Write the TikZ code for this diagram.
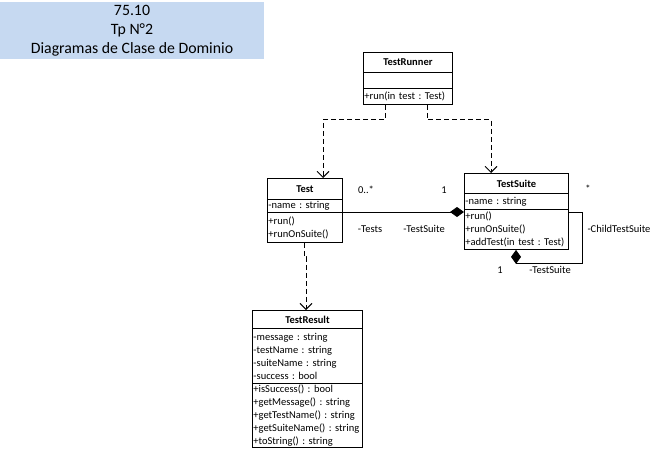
\documentclass[tikz,border=0pt]{standalone}
\usepackage{fontspec}
\setmainfont{Carlito}
\usetikzlibrary{arrows.meta}
\definecolor{titlefill}{RGB}{198,217,241}
\frenchspacing
\tikzset{
  comp/.style={draw, line width=0.9pt, anchor=north west, inner xsep=1pt, inner ysep=0pt,
    align=left, font=\fontsize{10.5}{13}\selectfont},
  cname/.style={comp, align=center, font=\fontsize{10.5}{13}\selectfont\bfseries},
  dep/.style={draw, line width=0.9pt, dash pattern=on 5pt off 3pt,
    -{Straight Barb[length=6pt,width=12pt]}},
  compo/.style={draw, line width=0.9pt, -{Diamond[length=14pt,width=10pt]}},
  lbl/.style={font=\fontsize{10.5}{13}\selectfont, inner sep=0pt},
}
\begin{document}
\begin{tikzpicture}[x=1pt,y=-1pt]
\useasboundingbox (0,0) rectangle (652,450);

% title block
\node[fill=titlefill, minimum width=264pt, minimum height=57pt, inner sep=0pt,
  align=center, font=\fontsize{15.8}{19}\selectfont] (title) at (132,30.5)
  {75.10\\Tp N°2\\Diagramas de Clase de Dominio};

% TestRunner
\node[cname, text width=87pt, minimum height=20pt] (runnerN) at (363,52) {TestRunner};
\node[comp, text width=87pt, minimum height=16pt] (runnerA) at (363,72) {};
\node[comp, text width=87pt, minimum height=16pt] (runnerO) at (363,88) {+run(in test : Test)};

% Test
\node[cname, text width=73pt, minimum height=21pt] (testN) at (267,178) {Test};
\node[comp, text width=73pt, minimum height=13pt] (testA) at (267,199) {-name : string};
\node[comp, text width=73pt, minimum height=30pt] (testO) at (267,212) {+run()\\+runOnSuite()};

% TestSuite
\node[cname, text width=102pt, minimum height=20pt] (suiteN) at (464,173) {TestSuite};
\node[comp, text width=102pt, minimum height=16pt] (suiteA) at (464,193) {-name : string};
\node[comp, text width=102pt, minimum height=40pt] (suiteO) at (464,209)
  {+run()\\+runOnSuite()\\+addTest(in test : Test)};

% TestResult
\node[cname, text width=108pt, minimum height=18pt] (resN) at (252,310) {TestResult};
\node[comp, text width=108pt, minimum height=55pt] (resA) at (252,328)
  {-message : string\\-testName : string\\-suiteName : string\\-success : bool};
\node[comp, text width=108pt, minimum height=64pt] (resO) at (252,383)
  {+isSuccess() : bool\\+getMessage() : string\\+getTestName() : string\\+getSuiteName() : string\\+toString() : string};

% dependencies
\draw[dep] ([xshift=22pt]runnerO.south west) -- ++(0,15) -| ([xshift=56pt]testN.north west);
\draw[dep] ([xshift=64pt]runnerO.south west) -- ++(0,15) -| ([xshift=27pt]suiteN.north west);
\draw[dep] ([xshift=37pt]testO.south west) -- ++(0,14) -- ++(2,0) coordinate (jog)
  -- (jog |- resN.north);

% compositions
\draw[compo] (testO.north east) -- (suiteO.west |- testO.north east);
\draw[compo] (suiteO.north east |- testO.north east) -- ++(14,0) -- ++(0,51)
  -| ([xshift=52pt]suiteO.south west);

% role names and multiplicities
\node[lbl] (m1) at (366,190) {0..*};
\node[lbl] (m2) at (444,190) {1};
\node[lbl] (r1) at (370,229) {-Tests};
\node[lbl] (r2) at (424,229) {-TestSuite};
\node[lbl] (m3) at (588,189) {*};
\node[lbl] (r3) at (619,229) {-ChildTestSuite};
\node[lbl] (m4) at (500,270) {1};
\node[lbl] (r4) at (550,270) {-TestSuite};
\end{tikzpicture}
\end{document}
